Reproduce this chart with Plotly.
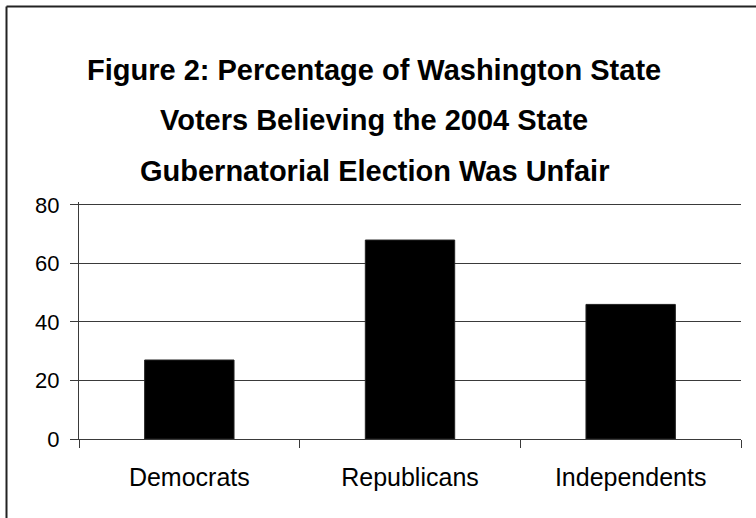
import plotly.graph_objects as go

categories = ["Democrats", "Republicans", "Independents"]
values = [27, 68, 46]
y_ticks = [0, 20, 40, 60, 80]
title_lines = [
    "Figure 2: Percentage of Washington State",
    "Voters Believing the 2004 State",
    "Gubernatorial Election Was Unfair",
]

W, H = 756, 518
L, R, T, B = 79, 15, 202, 79
pw, ph = W - L - R, H - T - B

def px(x):
    return (x - L) / pw

def py(y):
    return (H - B - y) / ph

fig = go.Figure(go.Bar(
    x=categories, y=values,
    marker=dict(color="black", line=dict(color="#222222", width=1)),
))

line_col = "#3a3a3a"
fig.update_layout(
    width=W, height=H,
    margin=dict(l=L, r=R, t=T, b=B, pad=0),
    paper_bgcolor="white", plot_bgcolor="white",
    bargap=0.595,
    showlegend=False,
    font=dict(family="Liberation Sans, Arial, sans-serif", color="black"),
    xaxis=dict(
        showline=True, linecolor=line_col, linewidth=1,
        ticks="outside", tickson="boundaries", ticklen=8, tickcolor=line_col,
        tickfont=dict(size=25), showgrid=False, ticklabelstandoff=16,
    ),
    yaxis=dict(
        range=[0, 81], tickvals=y_ticks,
        showline=True, linecolor=line_col, linewidth=1,
        ticks="outside", ticklen=8, tickcolor=line_col,
        tickfont=dict(size=22), ticklabelstandoff=6,
        showgrid=True, gridcolor=line_col, gridwidth=1, zeroline=False,
    ),
)

centers = [70, 120, 171]
for txt, cy in zip(title_lines, centers):
    fig.add_annotation(
        text="<b>" + txt + "</b>", xref="paper", yref="paper",
        x=px(374), y=py(cy), xanchor="center", yanchor="middle",
        showarrow=False, font=dict(size=29, color="black"),
    )

# outer frame (left and top edges visible)
fig.add_shape(type="line", xref="paper", yref="paper",
              x0=px(6.5), x1=px(6.5), y0=py(530), y1=py(6.5),
              line=dict(color="#222222", width=2))
fig.add_shape(type="line", xref="paper", yref="paper",
              x0=px(6.5), x1=px(770), y0=py(6.5), y1=py(6.5),
              line=dict(color="#222222", width=2))

fig.write_html("out.html", config={"displayModeBar": False},
               post_script="document.body.style.margin='0px';")
